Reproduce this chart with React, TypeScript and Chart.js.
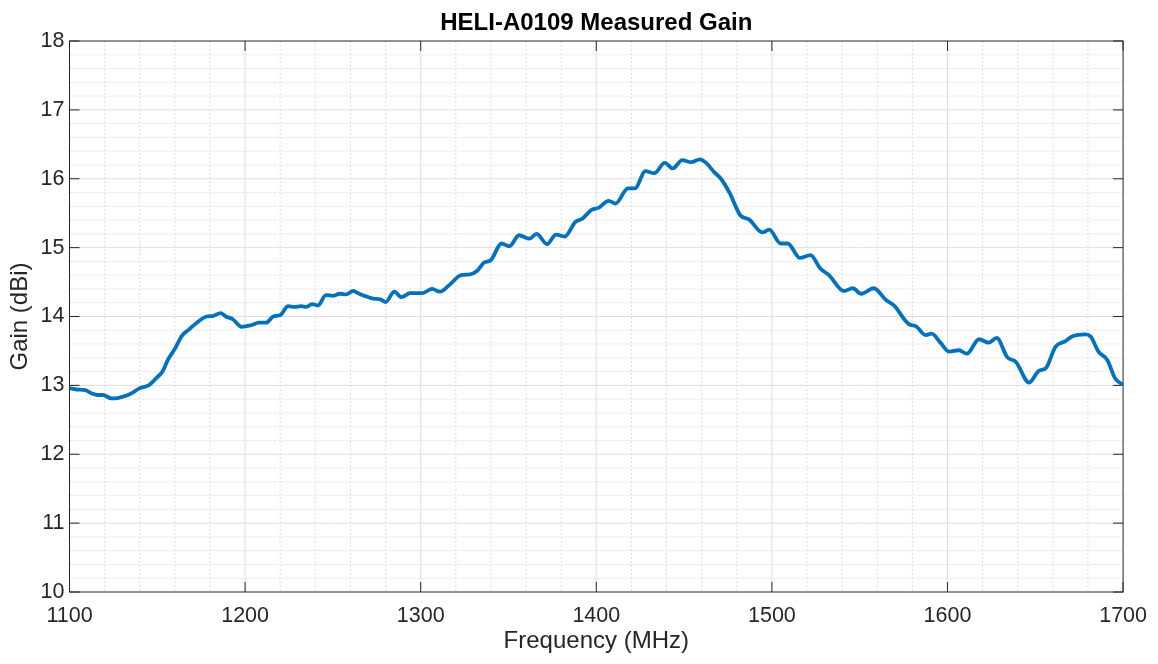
import React, { useEffect, useRef } from "react";
import { Chart, registerables } from "chart.js";

Chart.register(...registerables);

const freqMHz = [
  1100, 1104, 1109, 1113, 1116, 1119, 1124, 1128, 1131, 1135,
  1140, 1145, 1150, 1153, 1156, 1160, 1164, 1168, 1172, 1178,
  1182, 1186, 1189, 1193, 1198, 1203, 1208, 1212, 1216, 1220,
  1224.5, 1228, 1232, 1235, 1238, 1241.5, 1246, 1250, 1254, 1257.5,
  1261.5, 1265, 1268, 1273, 1277, 1280, 1285, 1289, 1294, 1301,
  1306.5, 1311, 1316, 1323, 1328, 1332, 1336, 1340, 1346, 1350.5,
  1356, 1362, 1366, 1372, 1377, 1382, 1388, 1392, 1397.5, 1401.5,
  1407, 1411, 1418, 1422, 1428, 1433, 1439, 1443.5, 1449, 1454,
  1459, 1462.5, 1467, 1471, 1476, 1482, 1487, 1494.5, 1498.5, 1505,
  1509, 1516, 1522, 1527.5, 1532.5, 1541, 1546, 1551, 1558, 1565,
  1569.5, 1578, 1582, 1587.5, 1591, 1596, 1601, 1606.5, 1611, 1618,
  1623.5, 1628, 1634, 1639, 1646.5, 1652, 1656, 1661.5, 1667, 1671,
  1678.5, 1681.5, 1686, 1691, 1695.5, 1700,
];

const gainDBi = [
  12.96, 12.94, 12.93, 12.88, 12.86, 12.86, 12.81, 12.82, 12.84, 12.88,
  12.96, 13.0, 13.12, 13.2, 13.37, 13.53, 13.72, 13.81, 13.9, 14.0,
  14.01, 14.05, 14.0, 13.96, 13.85, 13.87, 13.91, 13.91, 14.0, 14.02,
  14.15, 14.14, 14.15, 14.14, 14.18, 14.16, 14.31, 14.3, 14.33, 14.32,
  14.37, 14.33, 14.3, 14.26, 14.25, 14.21, 14.36, 14.28, 14.34, 14.34,
  14.4, 14.36, 14.45, 14.6, 14.61, 14.66, 14.78, 14.82, 15.06, 15.02,
  15.18, 15.13, 15.2, 15.05, 15.19, 15.16, 15.37, 15.42, 15.55, 15.58,
  15.68, 15.64, 15.86, 15.86, 16.11, 16.08, 16.23, 16.15, 16.27, 16.24,
  16.28, 16.23, 16.1, 16.0, 15.79, 15.47, 15.41, 15.22, 15.26, 15.06,
  15.06, 14.85, 14.89, 14.7, 14.6, 14.37, 14.41, 14.33, 14.41, 14.24,
  14.16, 13.89, 13.86, 13.73, 13.75, 13.62, 13.49, 13.51, 13.46, 13.67,
  13.62, 13.69, 13.41, 13.34, 13.04, 13.21, 13.25, 13.56, 13.64, 13.71,
  13.74, 13.71, 13.49, 13.37, 13.1, 13.01,
];

const xMajorTicks = [1100, 1200, 1300, 1400, 1500, 1600, 1700];
const yMajorTicks = [10, 11, 12, 13, 14, 15, 16, 17, 18];
const xMinorStep = 20;
const yMinorStep = 0.2;

const titleText = "HELI-A0109 Measured Gain";
const xLabel = "Frequency (MHz)";
const yLabel = "Gain (dBi)";

const FONT = "'Liberation Sans', Arial, Helvetica, sans-serif";
const LINE_BLUE = "#0072BD";
const AXIS_COLOR = "#262626";

const matlabAxesPlugin = {
  id: "matlabAxes",
  beforeDatasetsDraw(chart: any) {
    const { ctx, chartArea, scales } = chart;
    const { left, right, top, bottom } = chartArea;
    const x = scales.x;
    const y = scales.y;
    const xMin = xMajorTicks[0];
    const xMax = xMajorTicks[xMajorTicks.length - 1];
    const yMin = yMajorTicks[0];
    const yMax = yMajorTicks[yMajorTicks.length - 1];
    ctx.save();

    // minor grid (dotted)
    ctx.lineWidth = 1;
    ctx.strokeStyle = "#dedede";
    ctx.setLineDash([2, 2]);
    const nx = Math.round((xMax - xMin) / xMinorStep);
    for (let i = 1; i < nx; i++) {
      const v = xMin + i * xMinorStep;
      if (xMajorTicks.includes(v)) continue;
      const px = x.getPixelForValue(v);
      ctx.beginPath();
      ctx.moveTo(px, top);
      ctx.lineTo(px, bottom);
      ctx.stroke();
    }
    const ny = Math.round((yMax - yMin) / yMinorStep);
    for (let i = 1; i < ny; i++) {
      if (i % 5 === 0) continue;
      const v = yMin + i * yMinorStep;
      const py = y.getPixelForValue(v);
      ctx.beginPath();
      ctx.moveTo(left, py);
      ctx.lineTo(right, py);
      ctx.stroke();
    }

    // major grid (solid)
    ctx.setLineDash([]);
    ctx.strokeStyle = "#dfdfdf";
    for (const v of xMajorTicks) {
      if (v === xMin || v === xMax) continue;
      const px = x.getPixelForValue(v);
      ctx.beginPath();
      ctx.moveTo(px, top);
      ctx.lineTo(px, bottom);
      ctx.stroke();
    }
    for (const v of yMajorTicks) {
      if (v === yMin || v === yMax) continue;
      const py = y.getPixelForValue(v);
      ctx.beginPath();
      ctx.moveTo(left, py);
      ctx.lineTo(right, py);
      ctx.stroke();
    }

    // box and inward ticks
    ctx.strokeStyle = AXIS_COLOR;
    ctx.lineWidth = 1;
    ctx.strokeRect(left, top, right - left, bottom - top);
    const tl = 10;
    ctx.beginPath();
    for (const v of xMajorTicks) {
      const px = x.getPixelForValue(v);
      ctx.moveTo(px, bottom);
      ctx.lineTo(px, bottom - tl);
      ctx.moveTo(px, top);
      ctx.lineTo(px, top + tl);
    }
    for (const v of yMajorTicks) {
      const py = y.getPixelForValue(v);
      ctx.moveTo(left, py);
      ctx.lineTo(left + tl, py);
      ctx.moveTo(right, py);
      ctx.lineTo(right - tl, py);
    }
    ctx.stroke();
    ctx.restore();
  },
  afterDraw(chart: any) {
    const { ctx, chartArea } = chart;
    ctx.save();
    ctx.fillStyle = "#000000";
    ctx.font = `bold 24px ${FONT}`;
    ctx.textAlign = "center";
    ctx.textBaseline = "alphabetic";
    ctx.fillText(titleText, (chartArea.left + chartArea.right) / 2, 30);
    ctx.restore();
  },
};

export default function App() {
  const canvasRef = useRef<HTMLCanvasElement | null>(null);

  useEffect(() => {
    document.body.style.margin = "0";
    const canvas = canvasRef.current;
    if (!canvas) return;
    const points = freqMHz.map((f, i) => ({ x: f, y: gainDBi[i] }));
    const chart = new Chart(canvas, {
      type: "line",
      data: {
        datasets: [
          {
            data: points,
            borderColor: LINE_BLUE,
            backgroundColor: LINE_BLUE,
            borderWidth: 3.8,
            pointRadius: 0,
            cubicInterpolationMode: "monotone",
            fill: false,
          },
        ],
      },
      options: {
        responsive: false,
        animation: false,
        devicePixelRatio: 1,
        layout: { padding: { left: 0, right: 33.5, top: 41, bottom: 0 } },
        plugins: {
          legend: { display: false },
          title: { display: false },
          tooltip: { enabled: false },
        },
        scales: {
          x: {
            type: "linear",
            min: 1100,
            max: 1700,
            afterFit: (scale: any) => {
              scale.height = 72;
            },
            afterBuildTicks: (scale: any) => {
              scale.ticks = xMajorTicks.map((v) => ({ value: v }));
            },
            grid: { display: false, drawTicks: false },
            border: { display: false },
            ticks: {
              padding: 11,
              color: AXIS_COLOR,
              font: { family: FONT, size: 21.5 },
              maxRotation: 0,
              callback: (v: any) => String(v),
            },
            title: {
              display: true,
              text: xLabel,
              color: AXIS_COLOR,
              font: { family: FONT, size: 24 },
              padding: { top: 0, bottom: 8.6 },
            },
          },
          y: {
            type: "linear",
            min: 10,
            max: 18,
            afterFit: (scale: any) => {
              scale.width = 69.5;
            },
            afterBuildTicks: (scale: any) => {
              scale.ticks = yMajorTicks.map((v) => ({ value: v }));
            },
            grid: { display: false, drawTicks: false },
            border: { display: false },
            ticks: {
              padding: 5,
              color: AXIS_COLOR,
              font: { family: FONT, size: 21.5 },
              callback: (v: any) => String(v),
            },
            title: {
              display: true,
              text: yLabel,
              color: AXIS_COLOR,
              font: { family: FONT, size: 24 },
              padding: { top: 5.9, bottom: 0 },
            },
          },
        },
      },
      plugins: [matlabAxesPlugin],
    });
    return () => chart.destroy();
  }, []);

  return (
    <div style={{ position: "fixed", left: 0, top: 0, width: 1158, height: 664, background: "#ffffff" }}>
      <canvas ref={canvasRef} width={1158} height={664} />
    </div>
  );
}
